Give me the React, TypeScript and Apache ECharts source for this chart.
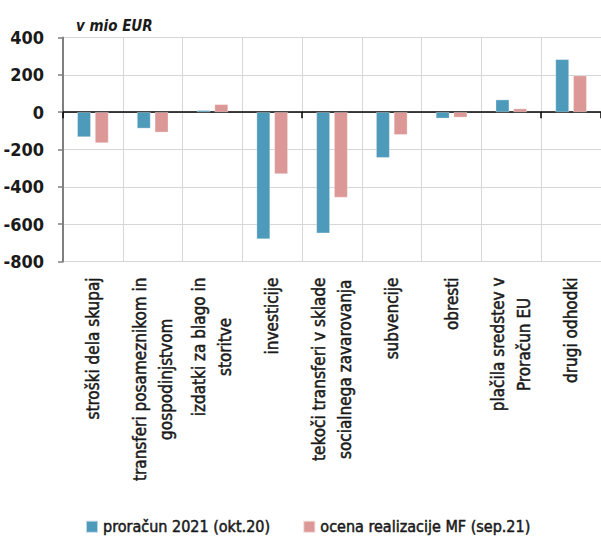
import React, { useEffect, useRef } from "react";
import * as echarts from "echarts";

const categories = [
  "stroški dela skupaj",
  "transferi posameznikom in\ngospodinjstvom",
  "izdatki za blago in\nstoritve",
  "investicije",
  "tekoči transferi v sklade\nsocialnega zavarovanja",
  "subvencije",
  "obresti",
  "plačila sredstev v\nProračun EU",
  "drugi odhodki",
];
const budget2021 = [-133, -87, 10, -680, -648, -244, -33, 67, 283];
const estimateMF = [-165, -108, 42, -331, -457, -121, -28, 19, 196];
const seriesNames = ["proračun 2021 (okt.20)", "ocena realizacije MF (sep.21)"];
const yMin = -800;
const yMax = 400;
const yInterval = 200;
const unitLabel = "v mio EUR";

const FONT = '"DejaVu Sans Condensed", "Liberation Sans Narrow", "Roboto", sans-serif';
const TEXT = "#1a1a1a";

export default function App() {
  const ref = useRef<HTMLDivElement>(null);
  useEffect(() => {
    document.body.style.margin = "0";
    if (!ref.current) return;
    const chart = echarts.init(ref.current, undefined, { renderer: "svg" });
    const labelStyle = {
      fontFamily: FONT,
      fontSize: 17,
      fontWeight: "normal",
      lineHeight: 26,
      color: TEXT,
      textBorderColor: TEXT,
      textBorderWidth: 0.5,
    };
    chart.setOption({
      animation: false,
      backgroundColor: "#ffffff",
      title: {
        text: unitLabel,
        left: 71,
        top: 13,
        textStyle: { fontFamily: FONT, fontStyle: "italic", fontWeight: "bold", fontSize: 15, color: TEXT },
      },
      legend: {
        bottom: 5,
        left: 85,
        padding: 0,
        itemWidth: 12,
        itemHeight: 12,
        itemGap: 32,
        icon: "rect",
        textStyle: {
          fontFamily: FONT,
          fontSize: 16,
          fontWeight: "normal",
          color: TEXT,
          textBorderColor: TEXT,
          textBorderWidth: 0.5,
        },
        data: seriesNames,
      },
      grid: { left: 63, right: -7, top: 37.5, bottom: 278.5, containLabel: false },
      xAxis: [
        {
          type: "category",
          data: categories,
          position: "bottom",
          axisLine: { show: false, onZero: false },
          axisTick: { show: false },
          splitLine: { show: true, lineStyle: { color: "#d6d6d6", width: 1 } },
          axisLabel: {
            rotate: 90,
            interval: 0,
            margin: 16,
            ...labelStyle,
            formatter: (v: string) => v.split("\n").map((l) => `{c|${l}}`).join("\n"),
            rich: { c: { align: "center", ...labelStyle } },
          },
        },
        {
          type: "category",
          data: categories,
          position: "bottom",
          axisLine: { show: true, onZero: true, lineStyle: { color: "#000000", width: 1.5 } },
          axisTick: { show: true, length: 6, inside: false, lineStyle: { color: "#000000", width: 1.5 } },
          axisLabel: { show: false },
          splitLine: { show: false },
        },
      ],
      yAxis: {
        type: "value",
        min: yMin,
        max: yMax,
        interval: yInterval,
        axisLine: { show: true, lineStyle: { color: "#7f7f7f", width: 2 } },
        axisTick: { show: true, length: 5, lineStyle: { color: "#7f7f7f", width: 1.5 } },
        splitLine: { show: true, lineStyle: { color: "#d6d6d6", width: 1 } },
        axisLabel: { margin: 19, color: TEXT, fontFamily: FONT, fontSize: 18, fontWeight: "bold" },
      },
      series: [
        {
          name: seriesNames[0],
          type: "bar",
          xAxisIndex: 0,
          data: budget2021,
          barWidth: "22.5%",
          barGap: "32%",
          itemStyle: { color: "#4e9abb", borderColor: "rgba(255,255,255,0.6)", borderWidth: 0.5 },
        },
        {
          name: seriesNames[1],
          type: "bar",
          xAxisIndex: 0,
          data: estimateMF,
          barWidth: "22.5%",
          barGap: "32%",
          itemStyle: { color: "#db9896", borderColor: "rgba(255,255,255,0.6)", borderWidth: 0.5 },
        },
      ],
    });
    return () => chart.dispose();
  }, []);
  return <div ref={ref} style={{ width: 601, height: 540 }} />;
}
